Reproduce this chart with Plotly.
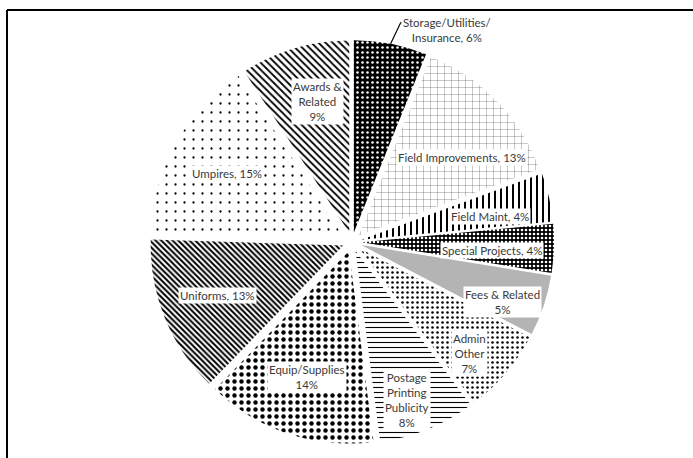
import math
import plotly.graph_objects as go

# ---------------- data ----------------
categories = ["Storage/Utilities/Insurance", "Field Improvements", "Field Maint",
              "Special Projects", "Fees & Related", "Admin Other",
              "Postage Printing Publicity", "Equip/Supplies", "Uniforms",
              "Umpires", "Awards & Related"]
values = [6, 13, 4, 4, 5, 7, 8, 14, 13, 15, 9]
label_texts = ["Storage/Utilities/<br>Insurance, 6%", "Field Improvements, 13%",
               "Field Maint, 4%", "Special Projects, 4%", "Fees & Related<br>5%",
               "Admin<br>Other<br>7%", "Postage<br>Printing<br>Publicity<br>8%",
               "Equip/Supplies<br>14%", "Uniforms, 13%", "Umpires, 15%",
               "Awards &<br>Related<br>9%"]

# ---------------- style ----------------
W, H = 693, 458
CX, CY, EXT = 352, 242, 202          # pie centre (px from top-left) and outer extent
PULL = 0.05
pat_shape = [".", "+", "|", ".", "", ".", "-", ".", "\\", ".", "\\"]
pat_bg = ["#000000", "#ffffff", "#ffffff", "#000000", "#b4b4b4", "#ffffff",
          "#ffffff", "#ffffff", "#ffffff", "#ffffff", "#ffffff"]
pat_fg = ["#ffffff", "#222222", "#000000", "#ffffff", "#b4b4b4", "#000000",
          "#000000", "#000000", "#000000", "#000000", "#000000"]
pat_size = [5, 7, 6, 4, 8, 5, 5, 7, 4, 9, 5]
pat_solid = [0.2, 0.07, 0.33, 0.35, 0.3, 0.2, 0.22, 0.32, 0.5, 0.05, 0.36]
lab_r = [None, 0.72, 0.73, 0.73, 0.84, 0.84, 0.87, 0.74, 0.75, 0.74, 0.75]
lab_da = [0, 6.7, 2.6, 1.5, 3.4, 3.1, 2.8, -0.1, 0.4, -0.5, 2.8]

dom_x = [(CX - EXT) / W, (CX + EXT) / W]
dom_y = [(H - CY - EXT) / H, (H - CY + EXT) / H]

fig = go.Figure(go.Pie(
    labels=categories, values=values, sort=False, direction="clockwise",
    rotation=0, pull=[PULL] * len(values), textinfo="none", hoverinfo="label+percent",
    domain=dict(x=dom_x, y=dom_y),
    marker=dict(colors=pat_bg, line=dict(width=0),
                pattern=dict(shape=pat_shape, fgcolor=pat_fg, bgcolor=pat_bg,
                             size=pat_size, solidity=pat_solid, fillmode="replace")),
))

R = EXT / (1 + PULL)
total = sum(values)
cum = 0
annotations = []
shapes = []
font = dict(family="Lato, Open Sans, sans-serif", size=11.5, color="#3a3a3a")
for i, v in enumerate(values):
    mid = (cum + v / 2) / total * 360
    cum += v
    if lab_r[i] is None:
        a = math.radians(mid)
        tx = CX + 1.0 * EXT * math.sin(a)
        ty = CY - 1.0 * EXT * math.cos(a)
        lx, ly = tx + 56, ty - 14          # label centre
        ex, ey = lx - 42, ly - 7           # elbow at label's upper-left
        shapes.append(dict(type="path", xref="paper", yref="paper",
                           path=f"M {tx / W},{1 - ty / H} L {(ex - 4) / W},{1 - ey / H} L {ex / W},{1 - ey / H}",
                           line=dict(color="#000", width=1.2)))
        annotations.append(dict(x=lx / W, y=1 - ly / H, xref="paper", yref="paper",
                                text=label_texts[i], showarrow=False, font=font,
                                bgcolor="#ffffff", borderpad=1,
                                xanchor="center", yanchor="middle"))
    else:
        a = math.radians(mid + lab_da[i])
        tx = CX + lab_r[i] * R * math.sin(a)
        ty = CY - lab_r[i] * R * math.cos(a)
        annotations.append(dict(x=tx / W, y=1 - ty / H, xref="paper", yref="paper",
                                text=label_texts[i], showarrow=False, font=font,
                                bgcolor="#ffffff", borderpad=1,
                                xanchor="center", yanchor="middle"))

shapes += [
    dict(type="line", xref="paper", yref="paper", x0=7 / W, x1=1.02,
         y0=1 - 10 / H, y1=1 - 10 / H, line=dict(color="#000", width=2)),
    dict(type="line", xref="paper", yref="paper", x0=7 / W, x1=7 / W,
         y0=-0.02, y1=1 - 10 / H, line=dict(color="#000", width=2)),
]

fig.update_layout(
    width=W, height=H, margin=dict(l=0, r=0, t=0, b=0),
    paper_bgcolor="#ffffff", plot_bgcolor="#ffffff", showlegend=False,
    annotations=annotations, shapes=shapes,
)
fig.write_html("out.html", config={"displayModeBar": False},
               post_script="document.body.style.margin='0px';")
